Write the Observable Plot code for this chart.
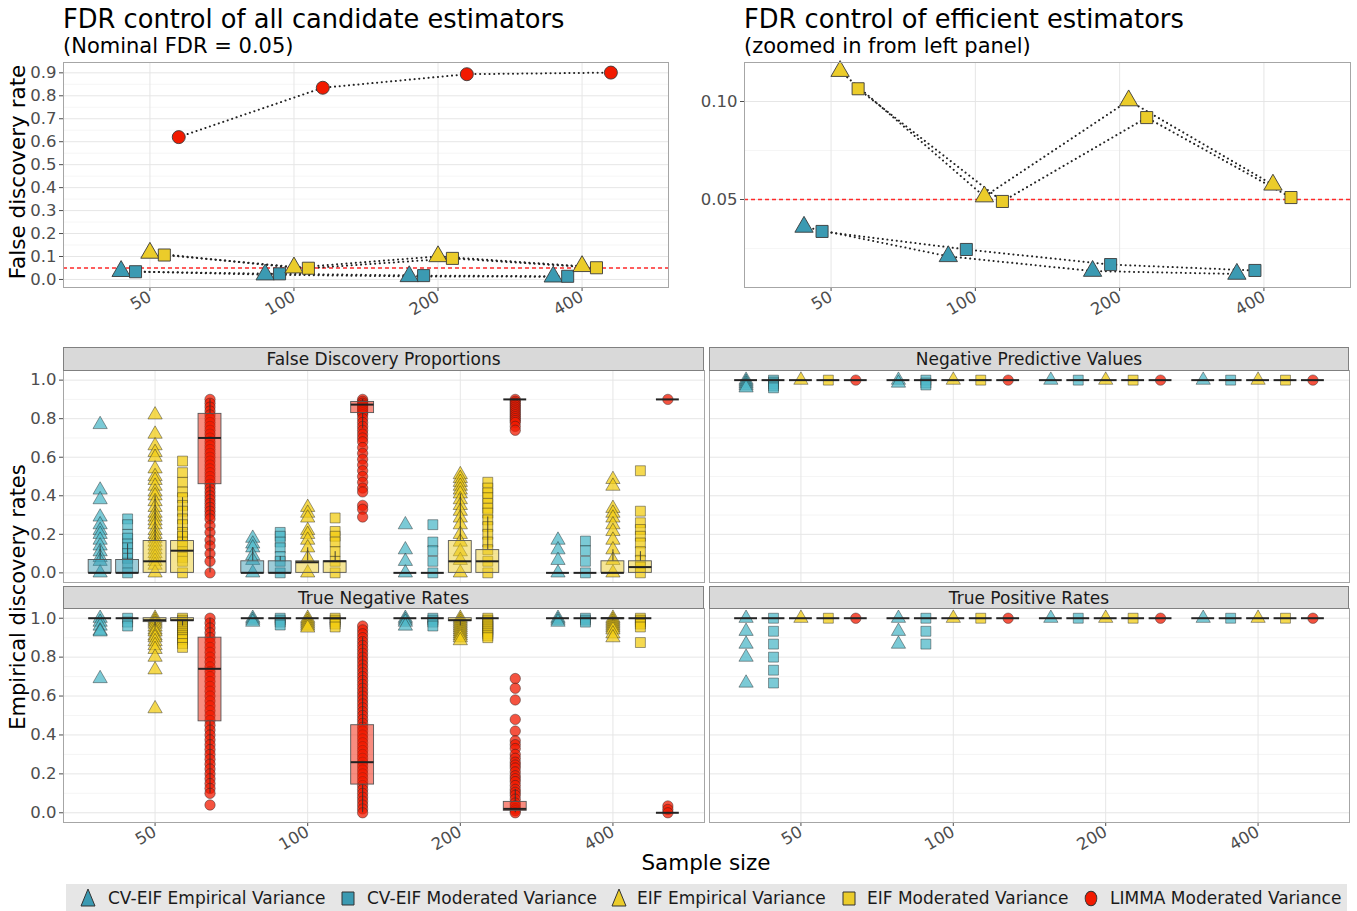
<!DOCTYPE html>
<html><head><meta charset="utf-8">
<script src="https://cdn.jsdelivr.net/npm/d3@7"></script>
<script src="https://cdn.jsdelivr.net/npm/@observablehq/plot@0.6"></script>
<style>
body{margin:0;background:#fff;font-family:"DejaVu Sans",sans-serif;}
#page{position:relative;width:1357px;height:911px;overflow:hidden;background:#fff;}
.t{position:absolute;white-space:nowrap;line-height:1;}
.strip{position:absolute;background:#d9d9d9;border:1px solid #808080;box-sizing:border-box;font-size:17px;color:#1a1a1a;display:flex;align-items:center;justify-content:center;}
</style></head><body><div id="page"></div>
<script>
// ---------------- data ----------------
const estimators = ["CV-EIF Empirical Variance","CV-EIF Moderated Variance","EIF Empirical Variance","EIF Moderated Variance","LIMMA Moderated Variance"];
const estimatorShapes = ["triangle","square","triangle","square","circle"];
const estimatorColors = ["#3B9AB2","#3B9AB2","#EBCC2A","#EBCC2A","#F21A00"];
const pointColors = ["#4fb8c8","#4fb8c8","#F2CC14","#F2CC14","#F21A00"];
const sampleSizes = [50,100,200,400];
const nominalFdr = 0.05;

// Top panels: false discovery rate per sample size
const fdrCvEifEmpirical = [0.036, 0.021, 0.0135, 0.012];
const fdrCvEifModerated = [0.0337, 0.0245, 0.0168, 0.0138];
const fdrEifEmpirical  = [0.1155, 0.0515, 0.1005, 0.0575];
const fdrEifModerated  = [0.1065, 0.049, 0.0918, 0.051];
const fdrLimma         = [0.62, 0.835, 0.894, 0.901];

const topLeftTicks = [0,0.1,0.2,0.3,0.4,0.5,0.6,0.7,0.8,0.9];
const topLeftMinor = [0.05,0.15,0.25,0.35,0.45,0.55,0.65,0.75,0.85];
const topRightTicks = [0.05,0.10];
const topRightMinor = [0.025,0.075];
const bottomTicks = [0,0.2,0.4,0.6,0.8,1.0];
const bottomMinor = [0.1,0.3,0.5,0.7,0.9];

const facetNames = ["False Discovery Proportions","Negative Predictive Values","True Negative Rates","True Positive Rates"];

// points: [estimator][sample size] -> replicate values
const fdpPoints = [
  [[0.77,0.43,0.38,0.29,0.25,0.22,0.2,0.17,0.14,0.11,0.08,0.06,0],[0.18,0.15,0.13,0.09,0.065,0],[0.25,0.12,0.06,0],[0.17,0.12,0.065,0]],
  [[0.28,0.25,0.2,0.18,0.15,0.13,0.1,0.075,0.05,0],[0.21,0.19,0.16,0.13,0.085,0.06,0],[0.25,0.16,0.115,0.06,0],[0.165,0.115,0.06,0]],
  [[0.82,0.72,0.66,0.625,0.6,0.54,0.5,0.48,0.45,0.42,0.4,0.37,0.34,0.31,0.29,0.27,0.25,0.22,0.2,0.18,0.16,0.14,0.12,0.1,0.08,0.06,0.04,0],
   [0.34,0.31,0.285,0.22,0.2,0.17,0.13,0.075,0],
   [0.51,0.49,0.47,0.45,0.43,0.41,0.38,0.35,0.32,0.285,0.25,0.2,0.16,0.11,0.065,0],
   [0.485,0.45,0.335,0.31,0.285,0.25,0.215,0.17,0.12,0.065,0]],
  [[0.58,0.52,0.47,0.42,0.39,0.35,0.32,0.28,0.25,0.21,0.19,0.16,0.14,0.11,0.08,0.06,0],
   [0.285,0.215,0.19,0.16,0.11,0.06,0],
   [0.47,0.44,0.415,0.39,0.36,0.335,0.31,0.275,0.24,0.2,0.16,0.12,0.06,0],
   [0.53,0.32,0.26,0.225,0.19,0.155,0.11,0.065,0.03,0]],
  [[0.9,0.88,0.86,0.84,0.82,0.8,0.78,0.76,0.74,0.72,0.7,0.68,0.66,0.64,0.62,0.6,0.58,0.56,0.54,0.52,0.5,0.48,0.46,0.44,0.42,0.4,0.38,0.36,0.34,0.32,0.3,0.28,0.245,0.21,0.17,0.14,0.1,0.06,0],
   [0.9,0.89,0.88,0.87,0.86,0.85,0.84,0.83,0.82,0.8,0.78,0.76,0.74,0.72,0.7,0.68,0.65,0.62,0.59,0.56,0.53,0.5,0.47,0.44,0.42,0.35,0.33,0.29],
   [0.9,0.89,0.88,0.87,0.86,0.85,0.84,0.83,0.82,0.81,0.8,0.79,0.78,0.76,0.74],
   [0.9]]
];
// boxes: [estimator][sample size] -> [q1, median, q3, whisker low, whisker high]
const fdpBoxes = [
  [[0,0,0.067,0,0.14],[0,0,0.06,0,0.13],[0,0,0,0,0],[0,0,0,0,0]],
  [[0,0,0.067,0,0.15],[0,0,0.06,0,0.085],[0,0,0,0,0],[0,0,0,0,0]],
  [[0,0.06,0.165,0,0.4],[0,0.055,0.06,0,0.13],[0,0.06,0.165,0,0.41],[0,0,0.06,0,0.12]],
  [[0,0.115,0.165,0,0.39],[0,0.06,0.06,0,0.11],[0,0.06,0.118,0,0.29],[0,0.03,0.06,0,0.11]],
  [[0.46,0.7,0.825,0,0.9],[0.829,0.873,0.887,0.75,0.9],[0.9,0.9,0.9,0.9,0.9],[0.9,0.9,0.9,0.9,0.9]]
];

const npvPoints = [
  [[1,0.99,0.98,0.97,0.96],[1,0.985],[1],[1]],
  [[1,0.99,0.98,0.97,0.96],[1,0.985,0.975],[1],[1]],
  [[1],[1],[1],[1]],
  [[1],[1],[1],[1]],
  [[1],[1],[1],[1]]
];
const npvBoxes = [
  [[1,1,1,1,1],[1,1,1,1,1],[1,1,1,1,1],[1,1,1,1,1]],
  [[1,1,1,1,1],[1,1,1,1,1],[1,1,1,1,1],[1,1,1,1,1]],
  [[1,1,1,1,1],[1,1,1,1,1],[1,1,1,1,1],[1,1,1,1,1]],
  [[1,1,1,1,1],[1,1,1,1,1],[1,1,1,1,1],[1,1,1,1,1]],
  [[1,1,1,1,1],[1,1,1,1,1],[1,1,1,1,1],[1,1,1,1,1]]
];

const tnrPoints = [
  [[1,0.98,0.96,0.935,0.93,0.69],[1,0.99,0.98],[1,0.99,0.98,0.96],[1,0.99,0.98]],
  [[1,0.98,0.96],[1,0.99,0.98,0.965],[1,0.99,0.98,0.96],[1,0.99,0.98]],
  [[1,0.99,0.98,0.97,0.955,0.94,0.93,0.91,0.9,0.88,0.86,0.84,0.8,0.735,0.535],
   [1,0.99,0.98,0.97,0.96,0.95],
   [1,0.99,0.98,0.97,0.96,0.95,0.94,0.93,0.92,0.91,0.9,0.885],
   [1,0.99,0.98,0.97,0.96,0.95,0.94,0.92,0.9]],
  [[1,0.99,0.98,0.97,0.96,0.95,0.94,0.93,0.92,0.91,0.9,0.89,0.87,0.85],
   [1,0.99,0.98,0.97,0.955],
   [1,0.99,0.98,0.97,0.96,0.95,0.94,0.93,0.92,0.91,0.9],
   [1,0.99,0.98,0.97,0.955,0.875]],
  [[1,0.975,0.95,0.925,0.9,0.875,0.85,0.825,0.8,0.775,0.75,0.725,0.7,0.675,0.65,0.625,0.6,0.575,0.55,0.525,0.5,0.475,0.45,0.425,0.4,0.375,0.35,0.325,0.3,0.275,0.25,0.225,0.2,0.175,0.15,0.125,0.1,0.04],
   [0.96,0.94,0.92,0.9,0.88,0.86,0.84,0.82,0.8,0.78,0.76,0.74,0.72,0.7,0.68,0.66,0.64,0.62,0.6,0.58,0.56,0.54,0.52,0.5,0.48,0.46,0.44,0.42,0.4,0.38,0.36,0.34,0.32,0.3,0.28,0.26,0.24,0.22,0.2,0.18,0.16,0.14,0.12,0.1,0.08,0.06,0.04,0.02,0],
   [0.69,0.64,0.58,0.48,0.42,0.37,0.35,0.33,0.3,0.28,0.26,0.245,0.23,0.21,0.19,0.175,0.16,0.14,0.12,0.105,0.09,0.07,0.05,0.035,0.02,0.01,0],
   [0.035,0.017,0]]
];
const tnrBoxes = [
  [[1,1,1,1,1],[1,1,1,1,1],[1,1,1,1,1],[1,1,1,1,1]],
  [[1,1,1,1,1],[1,1,1,1,1],[1,1,1,1,1],[1,1,1,1,1]],
  [[0.98,0.99,1,0.95,1],[1,1,1,1,1],[0.985,0.99,1,0.96,1],[0.995,1,1,0.99,1]],
  [[0.985,0.99,1,0.96,1],[1,1,1,1,1],[1,1,1,1,1],[1,1,1,1,1]],
  [[0.47,0.74,0.9,0.1,1],[0.145,0.26,0.45,0,0.9],[0.01,0.02,0.056,0,0.12],[0,0,0,0,0]]
];

const tprPoints = [
  [[1,0.933,0.867,0.8,0.667],[1,0.933,0.867],[1],[1]],
  [[1,0.933,0.867,0.8,0.733,0.667],[1,0.933,0.867],[1],[1]],
  [[1],[1],[1],[1]],
  [[1],[1],[1],[1]],
  [[1],[1],[1],[1]]
];
const tprBoxes = npvBoxes;

// ---------------- layout helpers ----------------
const page = document.getElementById("page");
const xDomain = [50 * 2 ** -0.6, 400 * 2 ** 0.6];

function addText(txt, o) {
  const d = document.createElement("div");
  d.className = "t";
  d.textContent = txt;
  d.style.fontSize = o.size + "px";
  d.style.color = o.color || "#000";
  d.style.left = o.left + "px";
  d.style.top = o.top + "px";
  if (o.transform) d.style.transform = o.transform;
  page.appendChild(d);
  return d;
}
function addStrip(txt, x0, x1, y0, y1) {
  const d = document.createElement("div");
  d.className = "strip";
  d.textContent = txt;
  Object.assign(d.style, {left: x0 + "px", top: y0 + "px", width: (x1 - x0) + "px", height: (y1 - y0 + 1) + "px"});
  page.appendChild(d);
}
function makePlot({box, panel, yDomain, yTicks, yFormat, showY, showX, marks}) {
  const [L, T, R, B] = box;
  const p = Plot.plot({
    width: R - L, height: B - T,
    marginLeft: panel.x0 - L, marginRight: R - panel.x1,
    marginTop: panel.y0 - T, marginBottom: B - panel.y1,
    style: {background: "transparent", color: "#4d4d4d", fontSize: "16.5px", fontFamily: "DejaVu Sans, sans-serif", overflow: "visible"},
    x: {type: "log", base: 2, domain: xDomain, ticks: sampleSizes, tickFormat: d => String(d), tickRotate: -30, tickSize: 4, tickPadding: 4, label: null, axis: showX ? "bottom" : null},
    y: {domain: yDomain, ticks: yTicks, tickFormat: yFormat, tickSize: 4, tickPadding: 3, label: null, axis: showY ? "left" : null},
    marks
  });
  Object.assign(p.style, {position: "absolute", left: L + "px", top: T + "px"});
  page.appendChild(p);
}
function grid(major, minor) {
  return [
    Plot.ruleY(minor, {stroke: "#f0f0f0", strokeWidth: 0.7}),
    Plot.ruleY(major, {stroke: "#e6e6e6", strokeWidth: 1}),
    Plot.ruleX(sampleSizes, {stroke: "#e6e6e6", strokeWidth: 1})
  ];
}

// ---------------- top panels ----------------
function topMarks(series, idx, dodge) {
  const c = (idx.length - 1) / 2;
  const data = [];
  idx.forEach((e, k) => sampleSizes.forEach((n, j) => data.push({est: e, x: n * 2 ** ((k - c) * dodge), y: series[k][j]})));
  return [
    Plot.ruleY([nominalFdr], {stroke: "#ff2a2a", strokeWidth: 1.5, strokeDasharray: "4,3"}),
    Plot.line(data, {x: "x", y: "y", z: "est", stroke: "#222", strokeWidth: 2, strokeDasharray: "0.1,4.6", strokeLinecap: "round"}),
    ...idx.map(e => Plot.dot(data.filter(d => d.est === e), {x: "x", y: "y", symbol: estimatorShapes[e], r: estimatorShapes[e] === "circle" ? 6.5 : 6.8, fill: estimatorColors[e], stroke: "#3a3a3a", strokeWidth: 0.9})),
    Plot.frame({stroke: "#a6a6a6"})
  ];
}

makePlot({
  box: [0, 56, 690, 330], panel: {x0: 63, x1: 668, y0: 62, y1: 287},
  yDomain: [-0.035, 0.945], yTicks: topLeftTicks, yFormat: ".1f", showY: true, showX: true,
  marks: [...grid(topLeftTicks, topLeftMinor), ...topMarks([fdrCvEifEmpirical, fdrCvEifModerated, fdrEifEmpirical, fdrEifModerated, fdrLimma], [0,1,2,3,4], 0.1)]
});
makePlot({
  box: [690, 56, 1357, 330], panel: {x0: 744, x1: 1350, y0: 62, y1: 287},
  yDomain: [0.0051, 0.1199], yTicks: topRightTicks, yFormat: ".2f", showY: true, showX: true,
  marks: [...grid(topRightTicks, topRightMinor), ...topMarks([fdrCvEifEmpirical, fdrCvEifModerated, fdrEifEmpirical, fdrEifModerated], [0,1,2,3], 0.125)]
});

addText("FDR control of all candidate estimators", {left: 63, top: 7, size: 25.7});
addText("(Nominal FDR = 0.05)", {left: 63, top: 36, size: 21});
addText("FDR control of efficient estimators", {left: 744, top: 7, size: 25.7});
addText("(zoomed in from left panel)", {left: 744, top: 36, size: 21});
addText("False discovery rate", {left: 18, top: 172, size: 21.5, transform: "translate(-50%,-50%) rotate(-90deg)"});

// ---------------- bottom panels ----------------
const bottomDodge = 0.18, boxHalf = 0.075;
function boxMarks(points, boxes) {
  const pts = [], bxs = [];
  estimators.forEach((e, i) => sampleSizes.forEach((n, j) => {
    const xc = n * 2 ** ((i - 2) * bottomDodge);
    for (const v of points[i][j]) pts.push({est: i, x: xc, y: v});
    const [q1, med, q3, lo, hi] = boxes[i][j];
    bxs.push({est: i, x: xc, x1: xc * 2 ** -boxHalf, x2: xc * 2 ** boxHalf, q1, med, q3, lo, hi});
  }));
  const marks = [...grid(bottomTicks, bottomMinor)];
  estimators.forEach((e, i) => {
    const r = estimatorShapes[i] === "triangle" ? 5.3 : estimatorShapes[i] === "square" ? 5.6 : 5.2;
    marks.push(Plot.dot(pts.filter(d => d.est === i), {x: "x", y: "y", symbol: estimatorShapes[i], r, fill: pointColors[i], fillOpacity: 0.75, stroke: "#222", strokeOpacity: 0.55, strokeWidth: 0.8}));
  });
  estimators.forEach((e, i) => {
    const b = bxs.filter(d => d.est === i);
    marks.push(Plot.ruleX(b, {x: "x", y1: "q3", y2: "hi", stroke: "#333", strokeWidth: 0.9}));
    marks.push(Plot.ruleX(b, {x: "x", y1: "lo", y2: "q1", stroke: "#333", strokeWidth: 0.9}));
    marks.push(Plot.rect(b, {x1: "x1", x2: "x2", y1: "q1", y2: "q3", fill: estimatorColors[i], fillOpacity: 0.5, stroke: "#555", strokeWidth: 0.9}));
    marks.push(Plot.ruleY(b, {y: "med", x1: "x1", x2: "x2", stroke: "#222", strokeWidth: 2}));
  });
  marks.push(Plot.frame({stroke: "#a6a6a6"}));
  return marks;
}

makePlot({box: [0, 365, 706, 590], panel: {x0: 63, x1: 704, y0: 370, y1: 582}, yDomain: [-0.05, 1.05], yTicks: bottomTicks, yFormat: ".1f", showY: true, showX: false, marks: boxMarks(fdpPoints, fdpBoxes)});
makePlot({box: [706, 365, 1357, 590], panel: {x0: 709, x1: 1349, y0: 370, y1: 582}, yDomain: [-0.05, 1.05], yTicks: bottomTicks, yFormat: ".1f", showY: false, showX: false, marks: boxMarks(npvPoints, npvBoxes)});
makePlot({box: [0, 600, 706, 860], panel: {x0: 63, x1: 704, y0: 608, y1: 822}, yDomain: [-0.05, 1.05], yTicks: bottomTicks, yFormat: ".1f", showY: true, showX: true, marks: boxMarks(tnrPoints, tnrBoxes)});
makePlot({box: [706, 600, 1357, 860], panel: {x0: 709, x1: 1349, y0: 608, y1: 822}, yDomain: [-0.05, 1.05], yTicks: bottomTicks, yFormat: ".1f", showY: false, showX: true, marks: boxMarks(tprPoints, tprBoxes)});

addStrip(facetNames[0], 63, 704, 347, 370);
addStrip(facetNames[1], 709, 1349, 347, 370);
addStrip(facetNames[2], 63, 704, 586, 608);
addStrip(facetNames[3], 709, 1349, 586, 608);

addText("Empirical discovery rates", {left: 18, top: 597, size: 21, transform: "translate(-50%,-50%) rotate(-90deg)"});
addText("Sample size", {left: 706, top: 863, size: 21.5, transform: "translate(-50%,-50%)"});

// ---------------- legend ----------------
const legend = document.createElement("div");
Object.assign(legend.style, {position: "absolute", left: "66px", top: "884px", width: "1281px", height: "30px", background: "#e6e6e6"});
page.appendChild(legend);
const legendIconX = [22, 282, 553, 783, 1025];
const legendTextX = [42, 301, 571, 801, 1044];
estimators.forEach((name, i) => {
  const svg = d3.create("svg").attr("width", 20).attr("height", 22)
    .style("position", "absolute").style("left", (legendIconX[i] - 10) + "px").style("top", "3px");
  let path;
  if (estimatorShapes[i] === "triangle") path = "M10,2 L17,19 L3,19 Z";
  else if (estimatorShapes[i] === "square") path = "M4,5 L16,5 L16,18 L4,18 Z";
  else path = d3.symbol(d3.symbolCircle, 150)();
  const g = svg.append("path").attr("d", path).attr("fill", estimatorColors[i]).attr("stroke", "#333").attr("stroke-width", 1);
  if (estimatorShapes[i] === "circle") g.attr("transform", "translate(10,11.5) scale(0.85,1.05)");
  legend.appendChild(svg.node());
  const t = document.createElement("div");
  t.className = "t";
  t.textContent = name;
  Object.assign(t.style, {left: legendTextX[i] + "px", top: "6px", fontSize: "17px", color: "#1a1a1a"});
  legend.appendChild(t);
});
</script></body></html>
